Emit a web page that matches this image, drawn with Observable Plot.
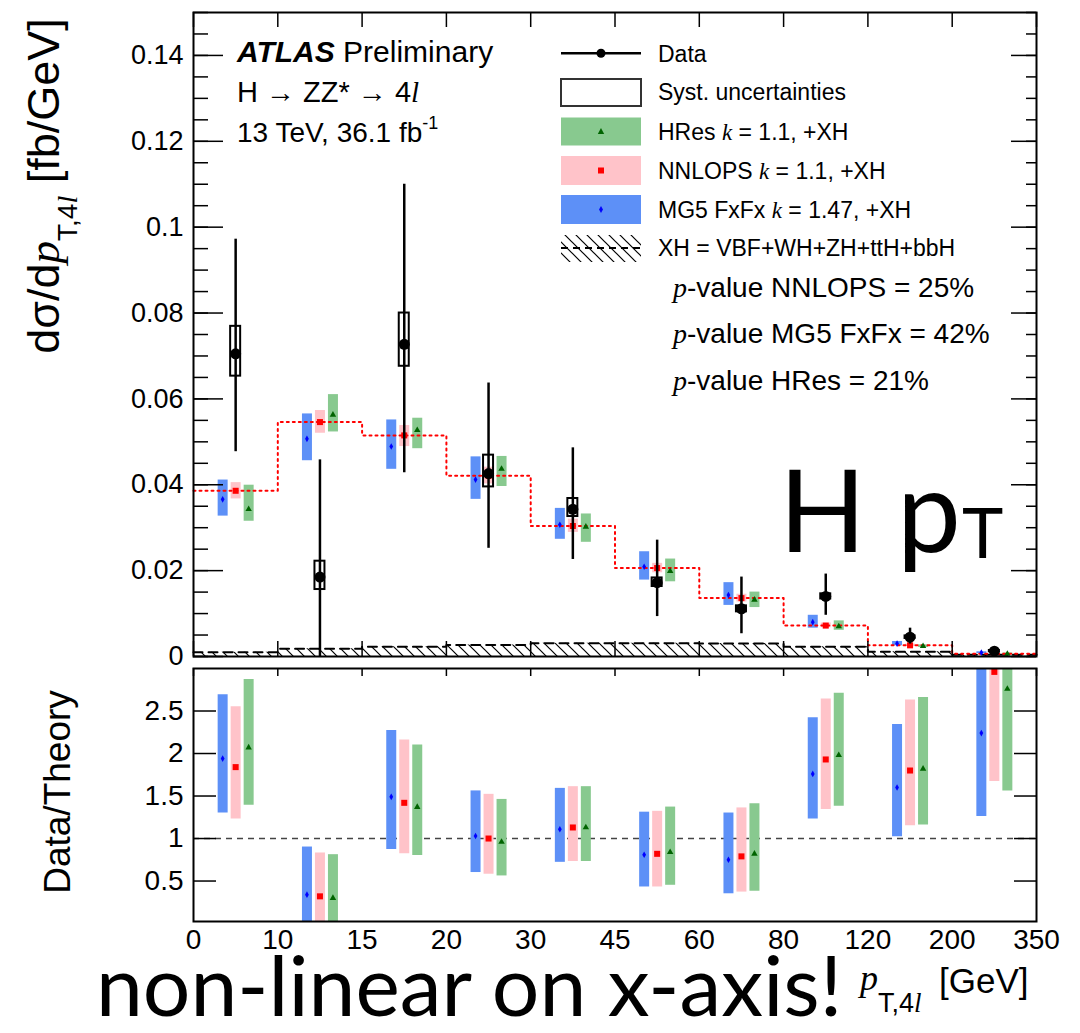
<!DOCTYPE html>
<html><head><meta charset="utf-8">
<script src="https://cdn.jsdelivr.net/npm/d3@7"></script>
<script src="https://cdn.jsdelivr.net/npm/@observablehq/plot@0.6"></script>
<style>
body{margin:0;background:#fff;}
#wrap{position:relative;width:1080px;height:1033px;overflow:hidden;background:#fff;}
#wrap svg.panel{position:absolute;left:0;}
#overlay{position:absolute;left:0;top:0;z-index:5;pointer-events:none;}
</style></head><body><div id="wrap"></div>
<script>
// ---------- data ----------
const binEdgeLabels = ["0","10","15","20","30","45","60","80","120","200","350"];
const bins = [0,1,2,3,4,5,6,7,8,9];

// top panel: dσ/dpT [fb/GeV]
const dataVal = [0.0705, 0.0185, 0.0727, 0.0426, 0.0343, 0.0172, 0.0111, 0.0140, 0.0045, 0.00124];
const dataLo  = [0.0477, 0.0000, 0.0428, 0.0252, 0.0226, 0.0093, 0.0053, 0.0096, 0.0029, 0.0009];
const dataHi  = [0.0972, 0.0458, 0.1100, 0.0637, 0.0486, 0.0271, 0.0185, 0.0192, 0.0066, 0.0016];
const systLo  = [0.0653, 0.0156, 0.0676, 0.0395, 0.0326, 0.0163, 0.0104, 0.0134, 0.0042, 0.0011];
const systHi  = [0.0769, 0.0222, 0.0800, 0.0469, 0.0368, 0.0183, 0.0118, 0.0146, 0.0048, 0.0014];

const mgVal = [0.0366, 0.0507, 0.0489, 0.0412, 0.0307, 0.0209, 0.0143, 0.0080, 0.0030, 0.0009];
const mgLo  = [0.0327, 0.0456, 0.0436, 0.0366, 0.0273, 0.0178, 0.0119, 0.0066, 0.0025, 0.0007];
const mgHi  = [0.0411, 0.0565, 0.0551, 0.0465, 0.0345, 0.0244, 0.0172, 0.0096, 0.0035, 0.0011];
const nnVal = [0.0386, 0.0546, 0.0515, 0.0421, 0.0304, 0.0206, 0.0136, 0.0072, 0.0026, 0.00065];
const nnLo  = [0.0367, 0.0520, 0.0489, 0.0402, 0.0289, 0.0195, 0.0127, 0.0067, 0.0023, 0.0005];
const nnHi  = [0.0405, 0.0573, 0.0538, 0.0441, 0.0320, 0.0217, 0.0145, 0.0078, 0.0029, 0.0008];
const hrVal = [0.0343, 0.0563, 0.0527, 0.0437, 0.0302, 0.0199, 0.0132, 0.0070, 0.0024, 0.0006];
const hrLo  = [0.0315, 0.0523, 0.0484, 0.0396, 0.0266, 0.0174, 0.0114, 0.0061, 0.0021, 0.0004];
const hrHi  = [0.0399, 0.0610, 0.0555, 0.0466, 0.0332, 0.0227, 0.0150, 0.0083, 0.0027, 0.0008];
const xhVal = [0.0010, 0.0018, 0.0023, 0.0027, 0.0031, 0.0031, 0.0030, 0.0023, 0.0011, 0.0004];

// ratio panel: Data/Theory
const rMgVal = [1.94, 0.34, 1.49, 1.03, 1.11, 0.81, 0.75, 1.76, 1.60, 2.24];
const rMgLo  = [1.30, 0.00, 0.87, 0.60, 0.72, 0.43, 0.35, 1.23, 1.02, 1.26];
const rMgHi  = [2.69, 0.90, 2.27, 1.56, 1.59, 1.31, 1.30, 2.42, 2.34, 3.30];
const rNnVal = [1.84, 0.32, 1.42, 1.00, 1.13, 0.82, 0.79, 1.93, 1.80, 2.96];
const rNnLo  = [1.23, 0.00, 0.82, 0.58, 0.73, 0.43, 0.37, 1.34, 1.15, 1.67];
const rNnHi  = [2.55, 0.83, 2.16, 1.52, 1.61, 1.32, 1.36, 2.64, 2.63, 3.40];
const rHrVal = [2.07, 0.30, 1.37, 0.96, 1.13, 0.84, 0.82, 1.98, 1.82, 2.76];
const rHrLo  = [1.39, 0.00, 0.80, 0.56, 0.73, 0.45, 0.38, 1.38, 1.16, 1.56];
const rHrHi  = [2.87, 0.81, 2.10, 1.46, 1.61, 1.37, 1.41, 2.71, 2.66, 3.30];

// tick values
const yTicksTop = [0, 0.02, 0.04, 0.06, 0.08, 0.1, 0.12, 0.14];
const yMinorTop = d3.range(0, 0.1501, 0.005);
const yTicksRatio = [0.5, 1, 1.5, 2, 2.5];
const xEdges = [0,1,2,3,4,5,6,7,8,9,10];

// ---------- styling ----------
const BLUE = "#5d90f7", PINK = "#ffc3c9", GREEN = "#88c98f";
const W = 1080, ML = 193, MR = 44;
const FONT = "'Liberation Sans', Arial, Helvetica, sans-serif";
const topH = 668, topMT = 12, topMB = 12;
const fwTop = W - ML - MR, fhTop = topH - topMT - topMB;
const botTop = 660, botH = 373, botMT = 8, botMB = 112;
const fhBot = botH - botMT - botMB;

const rows = bins.map(i => ({
  c: i + 0.5,
  d: dataVal[i], dLo: dataLo[i], dHi: dataHi[i], sLo: systLo[i], sHi: systHi[i],
  mg: mgVal[i], mgLo: mgLo[i], mgHi: mgHi[i],
  nn: nnVal[i], nnLo: nnLo[i], nnHi: nnHi[i],
  hr: hrVal[i], hrLo: hrLo[i], hrHi: hrHi[i],
  rmg: rMgVal[i], rmgLo: rMgLo[i], rmgHi: rMgHi[i],
  rnn: rNnVal[i], rnnLo: rNnLo[i], rnnHi: rNnHi[i],
  rhr: rHrVal[i], rhrLo: rHrLo[i], rhrHi: rHrHi[i]
}));
const stepOf = arr => bins.map(i => ({x: i, y: arr[i]})).concat([{x: 10, y: arr[arr.length - 1]}]);
const xhStep = stepOf(xhVal);
const nnStep = stepOf(nnVal);

// ---------- overlay (defs, legend, texts) ----------
const wrap = document.getElementById("wrap");
const SERIF = "font-family=\"'Liberation Serif', 'Times New Roman', serif\" font-style=\"italic\"";
wrap.insertAdjacentHTML("beforeend", `
<svg id="overlay" width="1080" height="1033" xmlns="http://www.w3.org/2000/svg" font-family="${FONT.replace(/"/g,'')}">
  <defs>
    <pattern id="hatch" patternUnits="userSpaceOnUse" width="11" height="11">
      <path d="M0,0 L11,11 M-3,8 L3,14 M8,-3 L14,3" stroke="#000" stroke-width="1.2" fill="none"/>
    </pattern>
  </defs>
  <!-- y titles -->
  <g transform="translate(59,186) rotate(-90)">
    <text text-anchor="middle" font-size="45" fill="#000">dσ/d<tspan ${SERIF}>p</tspan><tspan font-size="28" dy="18">T,4<tspan ${SERIF}>l</tspan></tspan><tspan dy="-18"> [fb/GeV]</tspan></text>
  </g>
  <g transform="translate(70,792) rotate(-90)">
    <text text-anchor="middle" font-size="37" fill="#000">Data/Theory</text>
  </g>
  <!-- x title -->
  <text x="860" y="990" font-size="36" ${SERIF} fill="#000">p</text>
  <text x="878" y="1012" font-size="27" fill="#000">T,4<tspan ${SERIF}>l</tspan></text>
  <text x="939" y="993" font-size="35" fill="#000">[GeV]</text>
  <!-- ATLAS block -->
  <text x="237" y="62" font-size="30" fill="#000"><tspan font-weight="bold" font-style="italic">ATLAS</tspan> Preliminary</text>
  <text x="237" y="102" font-size="29" fill="#000">H → ZZ* → 4<tspan ${SERIF}>l</tspan></text>
  <text x="237" y="142" font-size="28" fill="#000">13 TeV, 36.1 fb<tspan font-size="18" dy="-13">-1</tspan></text>
  <!-- legend -->
  <line x1="561" x2="641" y1="53.3" y2="53.3" stroke="#000" stroke-width="2.5"/>
  <circle cx="601" cy="53.3" r="4.5" fill="#000"/>
  <text x="658" y="61.5" font-size="23" fill="#000">Data</text>
  <rect x="561" y="79" width="80" height="27" fill="none" stroke="#333" stroke-width="2"/>
  <text x="658" y="100" font-size="23" fill="#000">Syst. uncertainties</text>
  <rect x="561" y="117.5" width="80" height="28" fill="${GREEN}"/>
  <path d="M601,128 L604.2,134 L597.8,134 Z" fill="#006400"/>
  <text x="658" y="139.7" font-size="23" fill="#000">HRes <tspan ${SERIF}>k</tspan> = 1.1, +XH</text>
  <rect x="561" y="156" width="80" height="29" fill="${PINK}"/>
  <rect x="598" y="167.5" width="6" height="6" fill="#ff0000"/>
  <text x="658" y="178.7" font-size="23" fill="#000">NNLOPS <tspan ${SERIF}>k</tspan> = 1.1, +XH</text>
  <rect x="561" y="195" width="80" height="29" fill="${BLUE}"/>
  <path d="M601,206 L603,209.5 L601,213 L599,209.5 Z" fill="#0000ff"/>
  <text x="658" y="217.7" font-size="23" fill="#000">MG5 FxFx <tspan ${SERIF}>k</tspan> = 1.47, +XH</text>
  <rect x="561" y="235" width="80" height="27" fill="url(#hatch)"/>
  <line x1="561" x2="641" y1="248" y2="248" stroke="#000" stroke-width="2" stroke-dasharray="7,5"/>
  <text x="658" y="256" font-size="23" fill="#000">XH = VBF+WH+ZH+ttH+bbH</text>
  <text x="673" y="296.7" font-size="28" fill="#000"><tspan ${SERIF}>p</tspan>-value NNLOPS = 25%</text>
  <text x="673" y="343" font-size="28" fill="#000"><tspan ${SERIF}>p</tspan>-value MG5 FxFx = 42%</text>
  <text x="673" y="390" font-size="28" fill="#000"><tspan ${SERIF}>p</tspan>-value HRes = 21%</text>
  <!-- big annotations -->
  <text x="779" y="552" font-size="114" font-family="Lato, 'Open Sans', sans-serif" fill="#000">H</text>
  <text x="897" y="552" font-size="114" font-family="Lato, 'Open Sans', sans-serif" fill="#000">p</text>
  <text x="962" y="558" font-size="70" font-family="Lato, 'Open Sans', sans-serif" fill="#000">T</text>
  <text x="96" y="1016" font-size="84" font-family="Lato, 'Open Sans', sans-serif" fill="#000">non-linear on x-axis!</text>
</svg>`);

// ---------- top panel ----------
const topPlot = Plot.plot({
  width: W, height: topH,
  marginLeft: ML, marginRight: MR, marginTop: topMT, marginBottom: topMB,
  x: {domain: [0, 10], axis: null},
  y: {domain: [0, 0.15], axis: null},
  style: {fontFamily: FONT, fontSize: "27px", background: "transparent", color: "black", overflow: "visible"},
  marks: [
    Plot.areaY(xhStep, {x: "x", y: "y", curve: "step-after", fill: "url(#hatch)"}),
    Plot.line(xhStep, {x: "x", y: "y", curve: "step-after", stroke: "black", strokeWidth: 2, strokeDasharray: "9,6"}),
    Plot.ruleX(rows, {x: "c", y1: "mgLo", y2: "mgHi", stroke: BLUE, strokeWidth: 10, dx: -13}),
    Plot.ruleX(rows, {x: "c", y1: "nnLo", y2: "nnHi", stroke: PINK, strokeWidth: 10}),
    Plot.ruleX(rows, {x: "c", y1: "hrLo", y2: "hrHi", stroke: GREEN, strokeWidth: 10, dx: 13}),
    Plot.line(nnStep, {x: "x", y: "y", curve: "step-after", stroke: "#ff0000", strokeWidth: 2, strokeDasharray: "2,4"}),
    Plot.dot(rows, {x: "c", y: "mg", symbol: "diamond", r: 2, fill: "#0000ff", dx: -13}),
    Plot.dot(rows, {x: "c", y: "nn", symbol: "square", r: 3.4, fill: "#ff0000"}),
    Plot.dot(rows, {x: "c", y: "hr", symbol: "triangle", r: 2.4, fill: "#006400", dx: 13}),
    Plot.rect(rows, {x1: "c", x2: "c", y1: "sLo", y2: "sHi", insetLeft: -5, insetRight: -5, fill: "none", stroke: "black", strokeWidth: 2}),
    Plot.ruleX(rows, {x: "c", y1: "dLo", y2: "dHi", stroke: "black", strokeWidth: 2.5}),
    Plot.dot(rows, {x: "c", y: "d", r: 5.5, fill: "black"}),
    Plot.tickY(yMinorTop, {y: d => d, insetRight: fwTop - 15, stroke: "black", strokeWidth: 1.5}),
    Plot.tickY(yTicksTop, {y: d => d, insetRight: fwTop - 30, stroke: "black", strokeWidth: 1.5}),
    Plot.tickY(yMinorTop, {y: d => d, insetLeft: fwTop - 10, stroke: "black", strokeWidth: 1.5}),
    Plot.tickY(yTicksTop, {y: d => d, insetLeft: fwTop - 25, stroke: "black", strokeWidth: 1.5}),
    Plot.tickX(xEdges, {x: d => d, insetTop: fhTop - 15, stroke: "black", strokeWidth: 1.5}),
    Plot.tickX(xEdges, {x: d => d, insetBottom: fhTop - 15, stroke: "black", strokeWidth: 1.5}),
    Plot.frame({stroke: "black", strokeWidth: 2}),
    Plot.axisY({ticks: yTicksTop, tickSize: 0, tickPadding: 10, tickFormat: d => String(d), fontSize: 27, label: null})
  ]
});
topPlot.classList.add("panel");
topPlot.style.top = "0px";
wrap.appendChild(topPlot);

// ---------- ratio panel ----------
const botPlot = Plot.plot({
  width: W, height: botH,
  marginLeft: ML, marginRight: MR, marginTop: botMT, marginBottom: botMB,
  x: {domain: [0, 10], axis: null},
  y: {domain: [0.024, 3], axis: null},
  style: {fontFamily: FONT, fontSize: "28px", background: "transparent", color: "black", overflow: "visible"},
  marks: [
    Plot.ruleY([1], {y: d => d, stroke: "#444", strokeWidth: 1.5, strokeDasharray: "6,5"}),
    Plot.ruleX(rows, {x: "c", y1: "rmgLo", y2: "rmgHi", stroke: BLUE, strokeWidth: 10, dx: -13, clip: true}),
    Plot.ruleX(rows, {x: "c", y1: "rnnLo", y2: "rnnHi", stroke: PINK, strokeWidth: 10, clip: true}),
    Plot.ruleX(rows, {x: "c", y1: "rhrLo", y2: "rhrHi", stroke: GREEN, strokeWidth: 10, dx: 13, clip: true}),
    Plot.dot(rows, {x: "c", y: "rmg", symbol: "diamond", r: 2, fill: "#0000ff", dx: -13, clip: true}),
    Plot.dot(rows, {x: "c", y: "rnn", symbol: "square", r: 3.4, fill: "#ff0000", clip: true}),
    Plot.dot(rows, {x: "c", y: "rhr", symbol: "triangle", r: 2.4, fill: "#006400", dx: 13, clip: true}),
    Plot.tickY(yTicksRatio, {y: d => d, insetRight: fwTop - 23, stroke: "black", strokeWidth: 1.5}),
    Plot.tickY(yTicksRatio, {y: d => d, insetLeft: fwTop - 22, stroke: "black", strokeWidth: 1.5}),
    Plot.tickX(xEdges, {x: d => d, insetBottom: fhBot - 8, stroke: "black", strokeWidth: 1.5}),
    Plot.frame({stroke: "black", strokeWidth: 2}),
    Plot.axisY({ticks: yTicksRatio, tickSize: 0, tickPadding: 10, tickFormat: d => String(d), fontSize: 28, label: null}),
    Plot.axisX({ticks: xEdges, tickSize: 0, tickPadding: 8, tickFormat: i => binEdgeLabels[i], fontSize: 28, label: null})
  ]
});
botPlot.classList.add("panel");
botPlot.style.top = botTop + "px";
wrap.appendChild(botPlot);
</script></body></html>
